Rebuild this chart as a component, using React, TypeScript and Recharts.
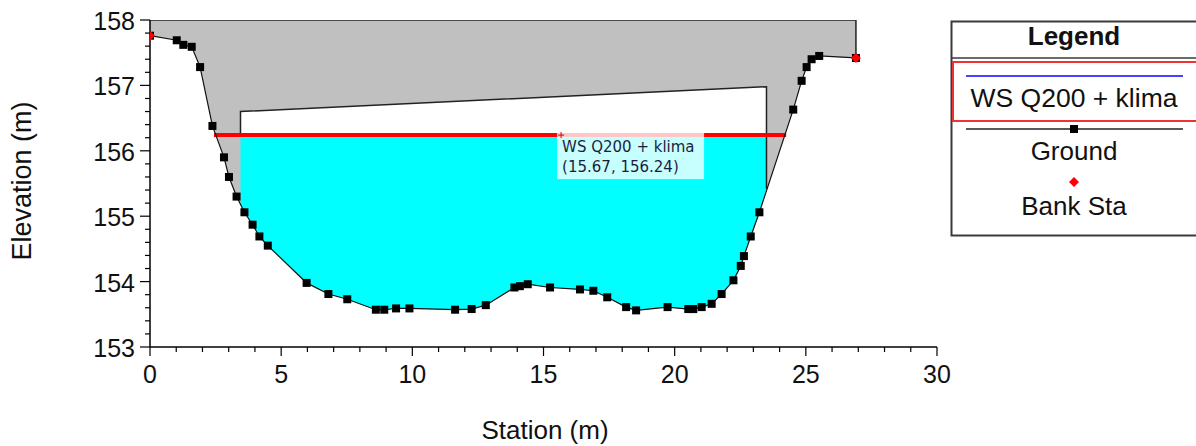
import React from 'react';
import { ComposedChart, Area, Line, XAxis, YAxis, ReferenceDot } from 'recharts';

// ground survey points (station m, elevation m)
const groundSta = [
  0, 1.02, 1.27, 1.59, 1.91, 2.38, 2.82, 3.01, 3.3, 3.6, 3.91, 4.17, 4.49, 5.97, 6.8, 7.52, 8.61, 8.93, 9.38,
  9.89, 11.63, 12.26, 12.8, 13.89, 14.1, 14.4, 15.25, 16.39, 16.9, 17.43, 18.15, 18.53, 19.73, 20.52, 20.71,
  21.03, 21.41, 21.79, 22.24, 22.52, 22.64, 22.9, 23.23, 24.52, 24.84, 25.03, 25.22, 25.51, 26.91,
];
const groundElev = [
  157.76, 157.69, 157.62, 157.59, 157.28, 156.38, 155.9, 155.6, 155.3, 155.06, 154.87, 154.69, 154.55, 153.98,
  153.81, 153.73, 153.57, 153.57, 153.59, 153.59, 153.57, 153.58, 153.64, 153.91, 153.93, 153.96, 153.91,
  153.88, 153.86, 153.76, 153.61, 153.56, 153.61, 153.58, 153.58, 153.61, 153.66, 153.81, 154.02, 154.24,
  154.39, 154.69, 155.06, 156.63, 157.07, 157.28, 157.4, 157.45, 157.42,
];

const bankSta = [0, 26.91];
const bankElev = [157.76, 157.42];

// bridge deck and opening
const deckSta = [0, 26.91, 26.91];
const deckElev = [158, 158, 157.42];
const abutmentSta = [3.45, 23.5];
const lowChordElev = [156.6, 156.98];
const abutmentToeElev = [155.18, 155.42];

const wsName = 'WS Q200 + klima';
const wsElev = 156.24;
const wsSta = [2.44, 24.25];
const probeSta = 15.67;

const xTicks = [
  0, 1, 2, 3, 4, 5, 6, 7, 8, 9, 10, 11, 12, 13, 14, 15, 16, 17, 18, 19, 20, 21, 22, 23, 24, 25, 26, 27, 28, 29, 30,
];
const xLabels = [0, 5, 10, 15, 20, 25, 30];
const yTicks = [
  153, 153.2, 153.4, 153.6, 153.8, 154, 154.2, 154.4, 154.6, 154.8, 155, 155.2, 155.4, 155.6, 155.8, 156, 156.2,
  156.4, 156.6, 156.8, 157, 157.2, 157.4, 157.6, 157.8, 158,
];
const yLabels = [153, 154, 155, 156, 157, 158];

const ground = groundSta.map((x, i) => ({ x, elev: groundElev[i] }));
const bank = bankSta.map((x, i) => ({ x, elev: bankElev[i] }));
const deckOutline = deckSta.map((x, i) => ({ x, elev: deckElev[i] }));
const opening = abutmentSta.map((x, i) => ({ x, range: [wsElev, lowChordElev[i]] }));
const openingOutline = [
  { x: abutmentSta[0], elev: wsElev },
  { x: abutmentSta[0], elev: lowChordElev[0] },
  { x: abutmentSta[1], elev: lowChordElev[1] },
  { x: abutmentSta[1], elev: abutmentToeElev[1] },
];
const water = [
  { x: abutmentSta[0], range: [abutmentToeElev[0], wsElev] },
  ...ground
    .filter((p) => p.x > abutmentSta[0] && p.x < abutmentSta[1])
    .map((p) => ({ x: p.x, range: [p.elev, wsElev] })),
  { x: abutmentSta[1], range: [abutmentToeElev[1], wsElev] },
];
const ws = wsSta.map((x) => ({ x, elev: wsElev }));

const FONT = '"Liberation Sans", Arial, sans-serif';

const renderYTick = (props: any) => {
  const { x, y, payload } = props;
  const major = yLabels.includes(payload.value);
  return (
    <g>
      <line x1={x - (major ? 10 : 5)} x2={x} y1={y} y2={y} stroke="#000" strokeWidth={1.2} />
      {major && (
        <text x={x - 15} y={y + 10} textAnchor="end" fontSize={25} fill="#111" fontFamily={FONT}>
          {payload.value}
        </text>
      )}
    </g>
  );
};

const renderXTick = (props: any) => {
  const { x, y, payload } = props;
  const major = xLabels.includes(payload.value);
  return (
    <g>
      <line x1={x} x2={x} y1={y} y2={y + (major ? 9 : 5)} stroke="#000" strokeWidth={1.2} />
      {major && (
        <text x={x} y={y + 36} textAnchor="middle" fontSize={25} fill="#111" fontFamily={FONT}>
          {payload.value}
        </text>
      )}
    </g>
  );
};

const groundDot = (p: any) => (
  <rect key={`g-${p.index}`} x={p.cx - 4} y={p.cy - 4} width={8} height={8} fill="#000" />
);

const bankDot = (p: any) => (
  <polygon
    key={`b-${p.index}`}
    points={`${p.cx},${p.cy - 5} ${p.cx + 5},${p.cy} ${p.cx},${p.cy + 5} ${p.cx - 5},${p.cy}`}
    fill="#ff0000"
  />
);

const probeLabel = (p: any) => {
  const { cx, cy } = p;
  return (
    <g>
      <rect x={cx - 4} y={cy - 4} width={147} height={48} fill="rgba(255,255,255,0.78)" />
      <line x1={cx - 3} x2={cx + 3} y1={cy} y2={cy} stroke="#d00" strokeWidth={1} />
      <line x1={cx} x2={cx} y1={cy - 3} y2={cy + 3} stroke="#d00" strokeWidth={1} />
      <text x={cx + 1} y={cy + 17} fontSize={15} fill="#1c1c40" fontFamily="DejaVu Sans, sans-serif">
        {wsName}
      </text>
      <text x={cx + 1} y={cy + 37} fontSize={15} fill="#1c1c40" fontFamily="DejaVu Sans, sans-serif">
        ({probeSta.toFixed(2)}, {wsElev.toFixed(2)})
      </text>
    </g>
  );
};

const ChartLegend = () => (
  <svg style={{ position: 'absolute', left: 950, top: 20 }} width={250} height={218}>
    <rect x={1.5} y={1.5} width={260} height={214} fill="#fff" stroke="#3a3a3a" strokeWidth={2} />
    <text x={124} y={25} textAnchor="middle" fontSize={26} fontWeight="bold" fontFamily={FONT} fill="#111">
      Legend
    </text>
    <line x1={1.5} x2={250} y1={38} y2={38} stroke="#3a3a3a" strokeWidth={1.5} />
    <rect x={3} y={42} width={260} height={59} fill="none" stroke="#e33" strokeWidth={2} />
    <line x1={16} x2={233} y1={56} y2={56} stroke="#4444ff" strokeWidth={2} />
    <text x={124} y={87} textAnchor="middle" fontSize={26.5} fontFamily={FONT} fill="#111">
      {wsName}
    </text>
    <line x1={16} x2={233} y1={109} y2={109} stroke="#222" strokeWidth={1.5} />
    <rect x={120} y={105} width={8} height={8} fill="#000" />
    <text x={124} y={140} textAnchor="middle" fontSize={26} fontFamily={FONT} fill="#111">
      Ground
    </text>
    <polygon points="124,157 129,162 124,167 119,162" fill="#ff0000" />
    <text x={124} y={195} textAnchor="middle" fontSize={26} fontFamily={FONT} fill="#111">
      Bank Sta
    </text>
  </svg>
);

export default function App() {
  return (
    <div
      style={{
        position: 'fixed',
        left: 0,
        top: 0,
        width: 1196,
        height: 446,
        overflow: 'hidden',
        background: '#fff',
        fontFamily: FONT,
      }}
    >
      <ComposedChart width={1196} height={446} margin={{ top: 20, right: 259, bottom: 59, left: 90 }}>
        <XAxis
          type="number"
          dataKey="x"
          domain={[0, 30]}
          ticks={xTicks}
          interval={0}
          tickSize={0}
          tickMargin={0}
          tickLine={false}
          tick={renderXTick}
          height={40}
          allowDataOverflow
          axisLine={{ stroke: '#000', strokeWidth: 1.5 }}
          label={{
            value: 'Station (m)',
            content: () => (
              <text x={545} y={439} textAnchor="middle" fontSize={26} fill="#111" fontFamily={FONT}>
                Station (m)
              </text>
            ),
          }}
        />
        <YAxis
          type="number"
          domain={[153, 158]}
          ticks={yTicks}
          interval={0}
          tickSize={0}
          tickMargin={0}
          tickLine={false}
          tick={renderYTick}
          width={60}
          allowDataOverflow
          axisLine={{ stroke: '#000', strokeWidth: 1.5 }}
          label={{
            value: 'Elevation (m)',
            content: () => (
              <text
                x={31}
                y={181}
                transform="rotate(-90 31 181)"
                textAnchor="middle"
                fontSize={27}
                fill="#111"
                fontFamily={FONT}
              >
                Elevation (m)
              </text>
            ),
          }}
        />
        <Area
          data={ground}
          dataKey="elev"
          baseValue={158}
          type="linear"
          fill="#c0c0c0"
          fillOpacity={1}
          stroke="none"
          isAnimationActive={false}
        />
        <Area
          data={opening}
          dataKey="range"
          type="linear"
          fill="#ffffff"
          fillOpacity={1}
          stroke="none"
          isAnimationActive={false}
        />
        <Area
          data={water}
          dataKey="range"
          type="linear"
          fill="#00ffff"
          fillOpacity={1}
          stroke="none"
          isAnimationActive={false}
        />
        <Line
          data={deckOutline}
          dataKey="elev"
          type="linear"
          stroke="#222"
          strokeWidth={1.5}
          dot={false}
          isAnimationActive={false}
        />
        <Line
          data={openingOutline}
          dataKey="elev"
          type="linear"
          stroke="#222"
          strokeWidth={1.5}
          dot={false}
          isAnimationActive={false}
        />
        <Line
          data={ws}
          dataKey="elev"
          name={wsName}
          type="linear"
          stroke="#ff0000"
          strokeWidth={4}
          dot={false}
          isAnimationActive={false}
        />
        <Line
          data={ground}
          dataKey="elev"
          name="Ground"
          type="linear"
          stroke="#111"
          strokeWidth={1.2}
          dot={groundDot}
          isAnimationActive={false}
        />
        <Line
          data={bank}
          dataKey="elev"
          name="Bank Sta"
          type="linear"
          stroke="none"
          dot={bankDot}
          isAnimationActive={false}
        />
        <ReferenceDot x={probeSta} y={wsElev} r={3} shape={probeLabel} />
      </ComposedChart>
      <ChartLegend />
    </div>
  );
}
